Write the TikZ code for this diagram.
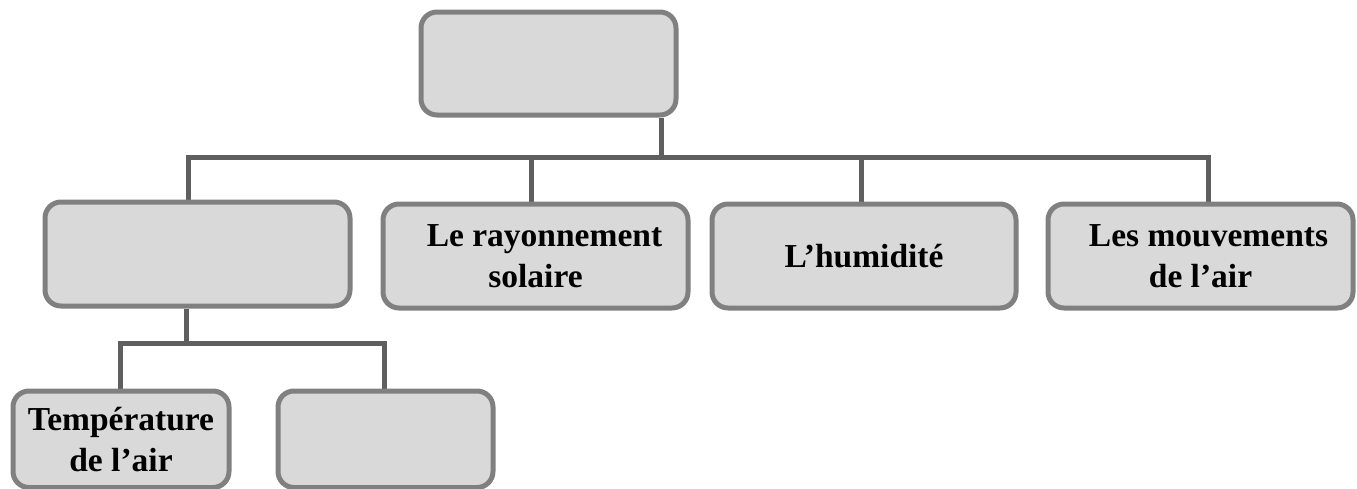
\documentclass[tikz,border=0pt]{standalone}
\usepackage{fontspec}
\setmainfont{Liberation Serif}
\usetikzlibrary{backgrounds}
\definecolor{boxfill}{HTML}{D9D9D9}
\definecolor{boxborder}{HTML}{808080}
\definecolor{connc}{HTML}{5F5F5F}
\begin{document}
\begin{tikzpicture}[x=1pt,y=-1pt,
  box/.style={draw=boxborder,fill=boxfill,line width=5pt,rounded corners=16pt,
    anchor=north west,inner sep=0pt,align=center,
    font=\fontsize{33.5}{41}\selectfont\bfseries},
  conn/.style={draw=connc,line width=5pt,line join=miter}]
\useasboundingbox (0,0) rectangle (1357,488);
\node[box,minimum width=255pt,minimum height=103pt] (top) at (418.5,9.5) {};
\node[box,minimum width=305pt,minimum height=104pt] (b1) at (42.5,199.5) {};
\node[box,minimum width=305pt,minimum height=104pt] (b2) at (380.5,201.5) {\hspace*{18pt}Le rayonnement\\solaire};
\node[box,minimum width=304pt,minimum height=104pt] (b3) at (709.5,201.5) {L’humidité};
\node[box,minimum width=305pt,minimum height=104pt] (b4) at (1045.5,201.5) {\hspace*{16pt}Les mouvements\\de l’air};
\node[box,minimum width=216pt,minimum height=96.5pt] (b5) at (10.5,388.5) {Température\\de l’air};
\node[box,minimum width=215pt,minimum height=96.5pt] (b6) at (275.5,388.5) {};
\begin{scope}[on background layer]
\coordinate (h1) at (661,157);
\coordinate (d1) at (188,157);
\coordinate (d2) at (531,157);
\coordinate (d3) at (861,157);
\coordinate (d4) at (1208,157);
\draw[conn] (h1 |- top.south) -- (h1);
\draw[conn] (d1 |- b1.north) -- (d1) -- (d4) -- (d4 |- b4.north);
\draw[conn] (d2) -- (d2 |- b2.north);
\draw[conn] (d3) -- (d3 |- b3.north);
\coordinate (e0) at (186,343);
\coordinate (e1) at (120,343);
\coordinate (e2) at (384,343);
\draw[conn] (e0 |- b1.south) -- (e0);
\draw[conn] (e1 |- b5.north) -- (e1) -- (e2) -- (e2 |- b6.north);
\end{scope}
\end{tikzpicture}
\end{document}
